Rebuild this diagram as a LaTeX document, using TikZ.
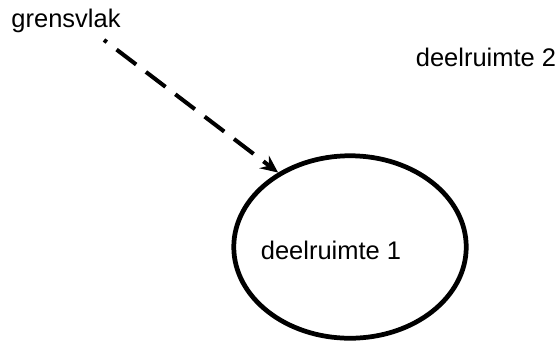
\documentclass[tikz,border=0pt]{standalone}
\usepackage{fontspec}
\setmainfont{Liberation Sans}
\usetikzlibrary{arrows.meta,shapes.geometric}
\tikzset{
  tag/.style={font=\fontsize{14.5}{17}\selectfont, inner sep=0pt},
  region/.style={draw, ellipse, line width=2.7pt, minimum width=4.65cm, minimum height=3.65cm},
  pointer/.style={line width=2.3pt, dash pattern=on 14pt off 7pt, dash phase=12pt,
    -{Stealth[length=10pt, width=9pt, inset=3.5pt]}}
}
\begin{document}
\begin{tikzpicture}[x=0.02cm, y=-0.02cm]
      \useasboundingbox (0,0) rectangle (560,342);
      \draw
        (66,21) node[tag] (gv){grensvlak}
        (486,57) node[tag] (d2){deelruimte 2}
        (350,247) node[region] (rim){}
        (331,250) node[tag] (d1){deelruimte 1};
      \coordinate (start) at (104,40);
      \begin{scope}[-]
        \draw[pointer] (start) to (rim.134);
      \end{scope}
    \end{tikzpicture}
\end{document}
